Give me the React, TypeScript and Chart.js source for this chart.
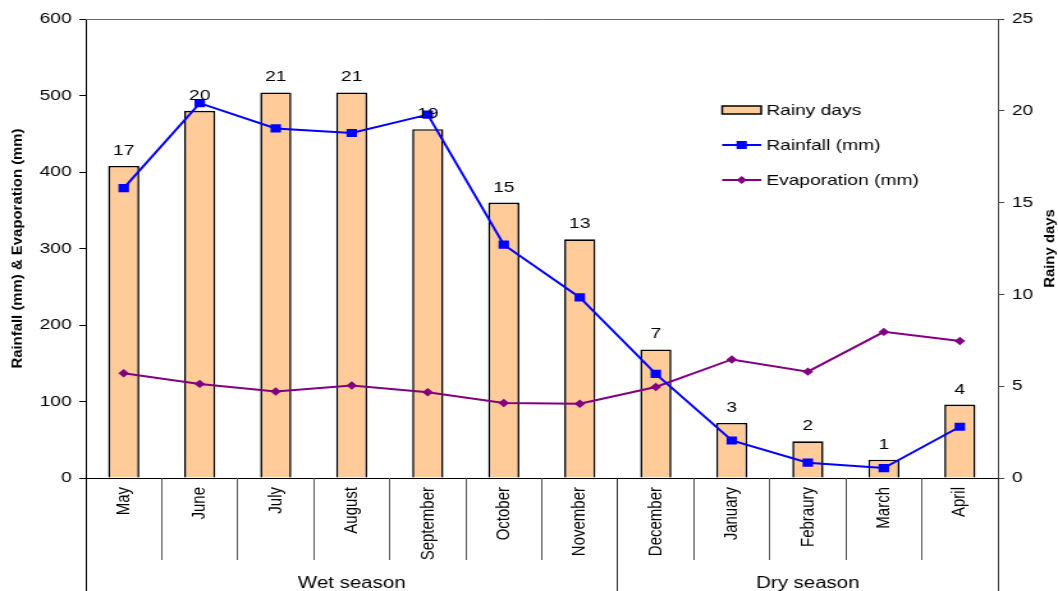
import React, { useEffect, useRef } from "react";
import { Chart, registerables } from "chart.js";

Chart.register(...registerables);

// ---- data ----
const months = [
  "May", "June", "July", "August", "September", "October", "November",
  "December", "January", "Febraury", "March", "April",
];
const rainyDays = [17, 20, 21, 21, 19, 15, 13, 7, 3, 2, 1, 4];
const rainfall = [379, 490, 457, 451, 475, 305, 236, 136, 49, 20, 13, 67];
const evaporation = [137, 123, 113, 121, 112, 98, 97, 119, 155, 139, 191, 179];
const seasonNames = ["Wet season", "Dry season"];
const seasonStart = [0, 7];
const seasonEnd = [7, 12];
const leftTitle = "Rainfall (mm) & Evaporation (mm)";
const rightTitle = "Rainy days";
const legendLabels = ["Rainy days", "Rainfall (mm)", "Evaporation (mm)"];

// ---- layout ----
const W = 827;
const H = 591;
const SX = 1058 / W;
const FONT = "'Liberation Sans', Arial, Helvetica, sans-serif";
const BAR_FILL = "#FFCC99";
const BLUE = "#0000FF";
const PURPLE = "#800080";

const align = (v: number) => Math.round(v - 0.5) + 0.5;

const decorPlugin = {
  id: "decor",
  afterDatasetsDraw(chart: any) {
    const ctx = chart.ctx;
    const meta = chart.getDatasetMeta(0);
    ctx.save();
    ctx.fillStyle = "#000";
    ctx.font = `15px ${FONT}`;
    ctx.textAlign = "center";
    ctx.textBaseline = "alphabetic";
    meta.data.forEach((bar: any, i: number) => {
      ctx.fillText(String(rainyDays[i]), bar.x, bar.y - 11);
    });
    ctx.restore();
  },
  afterDraw(chart: any) {
    const ctx = chart.ctx;
    const a = chart.chartArea;
    const n = months.length;
    const catW = (a.right - a.left) / n;
    ctx.save();
    // top border
    ctx.strokeStyle = "#666";
    ctx.lineWidth = 1;
    ctx.beginPath();
    ctx.moveTo(a.left, align(a.top));
    ctx.lineTo(a.right, align(a.top));
    ctx.stroke();

    // category separators below the axis
    for (let i = 0; i <= n; i++) {
      const x = align(a.left + i * catW);
      const long = seasonStart.includes(i) || seasonEnd.includes(i);
      ctx.strokeStyle = i === 0 ? "#000" : long ? "#333" : "#555";
      ctx.beginPath();
      ctx.moveTo(x, a.bottom);
      ctx.lineTo(x, long ? H : a.bottom + 82);
      ctx.stroke();
    }

    // season labels
    ctx.fillStyle = "#000";
    ctx.font = `16px ${FONT}`;
    ctx.textAlign = "center";
    ctx.textBaseline = "alphabetic";
    seasonNames.forEach((s, k) => {
      const cx = a.left + ((seasonStart[k] + seasonEnd[k]) / 2) * catW;
      ctx.fillText(s, cx, 588);
    });

    // axis titles (rotated, reading bottom to top)
    const cy = (a.top + a.bottom) / 2;
    const drawTitle = (text: string, x: number) => {
      ctx.save();
      ctx.translate(x, cy);
      ctx.rotate(-Math.PI / 2);
      ctx.scale(1.355, 1);
      ctx.font = `bold 11px ${FONT}`;
      ctx.textAlign = "center";
      ctx.textBaseline = "middle";
      ctx.fillStyle = "#000";
      ctx.fillText(text, 0, 0);
      ctx.restore();
    };
    drawTitle(leftTitle, 14);
    drawTitle(rightTitle, 820.5);

    // legend
    const lx1 = 564.5;
    const lx2 = 595;
    const tx = 599;
    ctx.font = `15px ${FONT}`;
    ctx.textAlign = "left";
    ctx.textBaseline = "alphabetic";
    // rainy days box
    ctx.fillStyle = BAR_FILL;
    ctx.fillRect(lx1, 106, lx2 - lx1, 8);
    ctx.strokeStyle = "#000";
    ctx.lineWidth = 1.5;
    ctx.strokeRect(lx1, 106, lx2 - lx1, 8);
    ctx.fillStyle = "#000";
    ctx.fillText(legendLabels[0], tx, 115);
    // rainfall
    const mx = (lx1 + lx2) / 2;
    ctx.strokeStyle = BLUE;
    ctx.lineWidth = 2;
    ctx.beginPath();
    ctx.moveTo(lx1, 145);
    ctx.lineTo(lx2, 145);
    ctx.stroke();
    ctx.fillStyle = BLUE;
    ctx.fillRect(mx - 4, 141, 8, 8);
    ctx.fillStyle = "#000";
    ctx.fillText(legendLabels[1], tx, 150);
    // evaporation
    ctx.strokeStyle = PURPLE;
    ctx.beginPath();
    ctx.moveTo(lx1, 180);
    ctx.lineTo(lx2, 180);
    ctx.stroke();
    ctx.fillStyle = PURPLE;
    ctx.beginPath();
    ctx.moveTo(mx - 4, 180);
    ctx.lineTo(mx, 176);
    ctx.lineTo(mx + 4, 180);
    ctx.lineTo(mx, 184);
    ctx.closePath();
    ctx.fill();
    ctx.fillStyle = "#000";
    ctx.fillText(legendLabels[2], tx, 185);
    ctx.restore();
  },
};

export default function App() {
  const canvasRef = useRef<HTMLCanvasElement | null>(null);

  useEffect(() => {
    const canvas = canvasRef.current;
    if (!canvas) return;
    const tickFont = { family: FONT, size: 15 };
    const chart = new Chart(canvas, {
      type: "bar",
      data: {
        labels: months,
        datasets: [
          {
            type: "bar",
            label: legendLabels[0],
            data: rainyDays,
            yAxisID: "y1",
            backgroundColor: BAR_FILL,
            borderColor: "#000",
            borderWidth: 1.6,
            barPercentage: 0.41,
            categoryPercentage: 1,
            order: 3,
          },
          {
            type: "line",
            label: legendLabels[1],
            data: rainfall,
            yAxisID: "y",
            borderColor: BLUE,
            backgroundColor: BLUE,
            borderWidth: 2,
            pointStyle: "rect",
            pointRadius: 5.8,
            pointBorderWidth: 0,
            tension: 0,
            order: 1,
          },
          {
            type: "line",
            label: legendLabels[2],
            data: evaporation,
            yAxisID: "y",
            borderColor: PURPLE,
            backgroundColor: PURPLE,
            borderWidth: 2,
            pointStyle: "rectRot",
            pointRadius: 4.2,
            pointBorderWidth: 0,
            tension: 0,
            order: 2,
          },
        ] as any,
      },
      options: {
        responsive: false,
        animation: false,
        devicePixelRatio: 1,
        layout: { padding: { top: 19, left: 0, right: 0, bottom: 0 } },
        plugins: {
          legend: { display: false },
          tooltip: { enabled: false },
        },
        scales: {
          x: {
            type: "category",
            offset: true,
            grid: { display: false, drawTicks: false },
            border: { display: true, color: "#000", width: 1 },
            ticks: {
              autoSkip: false,
              minRotation: 90,
              maxRotation: 90,
              padding: 9,
              color: "#000",
              font: tickFont,
            },
            afterFit(s: any) {
              s.height = 113;
            },
          },
          y: {
            position: "left",
            min: 0,
            max: 600,
            ticks: { stepSize: 100, padding: 6, color: "#000", font: tickFont },
            grid: { drawOnChartArea: false, drawTicks: true, tickLength: 5, color: "#000" },
            border: { display: true, color: "#000", width: 1 },
            afterFit(s: any) {
              s.width = 67;
            },
          },
          y1: {
            position: "right",
            min: 0,
            max: 25,
            ticks: { stepSize: 5, padding: 6, color: "#000", font: tickFont },
            grid: { drawOnChartArea: false, drawTicks: true, tickLength: 5, color: "#444" },
            border: { display: true, color: "#444", width: 1 },
            afterFit(s: any) {
              s.width = 47;
            },
          },
        },
      } as any,
      plugins: [decorPlugin],
    });
    return () => chart.destroy();
  }, []);

  return (
    <div
      style={{
        position: "absolute",
        left: 0,
        top: 0,
        width: 1058,
        height: 591,
        overflow: "hidden",
        background: "#fff",
      }}
    >
      <div
        style={{
          width: W,
          height: H,
          transform: `scaleX(${SX})`,
          transformOrigin: "0 0",
        }}
      >
        <canvas
          ref={canvasRef}
          width={W}
          height={H}
          style={{ width: W, height: H, display: "block" }}
        />
      </div>
    </div>
  );
}
